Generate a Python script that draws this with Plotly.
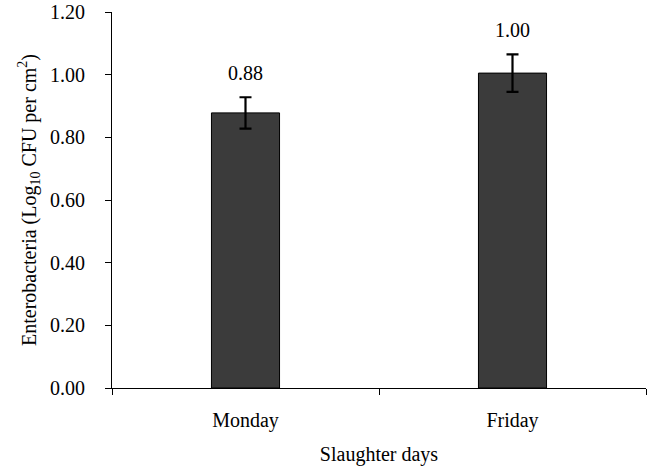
import plotly.graph_objects as go

categories = ["Monday", "Friday"]
values = [0.878, 1.005]
errors = [0.05, 0.06]
labels = ["0.88", "1.00"]
y_ticks = [0.0, 0.2, 0.4, 0.6, 0.8, 1.0, 1.2]
y_tick_text = ["0.00", "0.20", "0.40", "0.60", "0.80", "1.00", "1.20"]

FONT = "Liberation Serif, Times New Roman, serif"

fig = go.Figure()
fig.add_trace(go.Bar(
    x=categories, y=values,
    marker=dict(color="#3b3b3b", line=dict(color="#000000", width=1)),
    width=0.255,
    error_y=dict(type="data", array=errors, visible=True, color="#000000", thickness=2.2, width=6),
    showlegend=False,
))

for c, v, e, t in zip(categories, values, errors, labels):
    fig.add_annotation(x=c, y=v + e, text=t, showarrow=False, yanchor="bottom", yshift=11,
                       font=dict(family=FONT, size=20, color="#000000"))

fig.update_layout(
    width=647, height=468,
    margin=dict(l=112, r=1, t=12, b=80),
    paper_bgcolor="white", plot_bgcolor="white",
    font=dict(family=FONT, size=20, color="#000000"),
)
fig.update_xaxes(
    showline=True, linecolor="#000000", linewidth=1,
    ticks="outside", tickson="boundaries", ticklen=6, tickcolor="#000000",
    showgrid=False, zeroline=False, automargin=False,
    ticklabelstandoff=14,
    title=dict(text="Slaughter days", standoff=15, font=dict(size=20)),
    tickfont=dict(size=20),
)
fig.update_yaxes(
    range=[0, 1.2], tickvals=y_ticks, ticktext=y_tick_text,
    showline=True, linecolor="#000000", linewidth=1,
    ticks="outside", ticklen=6, tickcolor="#000000",
    showgrid=False, zeroline=False, automargin=False,
    ticklabelstandoff=16, ticklabeloverflow="allow",
    title=dict(text="Enterobacteria (Log<sub>10</sub> CFU per cm<sup>2</sup>)", standoff=8, font=dict(size=20)),
    tickfont=dict(size=20),
)

# remove the browser's default 8px body margin so the figure sits at the page corner
fig.write_html(
    "out.html",
    config={"displayModeBar": False},
    post_script="document.body.style.margin='0';document.body.style.overflow='hidden';",
)
